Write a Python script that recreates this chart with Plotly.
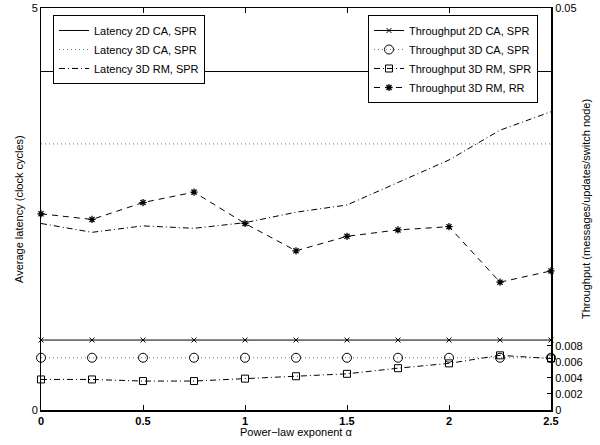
import plotly.graph_objects as go

alpha = [0, 0.25, 0.5, 0.75, 1.0, 1.25, 1.5, 1.75, 2.0, 2.25, 2.5]

lat_2d_ca = [4.21] * 11
lat_3d_ca = [3.31] * 11
lat_3d_rm = [2.32, 2.21, 2.29, 2.26, 2.33, 2.46, 2.55, 2.83, 3.11, 3.48, 3.71]

thr_2d_ca = [0.0087] * 11
thr_3d_ca = [0.0065] * 11
thr_3d_rm_spr = [0.0038, 0.0038, 0.0036, 0.0036, 0.0039, 0.0042, 0.0045, 0.0052, 0.0058, 0.0068, 0.0064]
thr_3d_rm_rr = [0.0244, 0.0237, 0.0258, 0.0271, 0.0232, 0.0198, 0.0216, 0.0224, 0.0228, 0.0159, 0.0173]

x_ticks = [0, 0.5, 1, 1.5, 2, 2.5]
x_tick_text = ["0", "0.5", "1", "1.5", "2", "2.5"]
left_ticks = [0, 5]
right_ticks = [0, 0.002, 0.004, 0.006, 0.008, 0.05]
right_tick_text = ["0", "0.002", "0.004", "0.006", "0.008", "0.05"]

FONT = "Liberation Sans, Arial, sans-serif"

fig = go.Figure()

# Latency traces (left axis)
fig.add_trace(go.Scatter(x=alpha, y=lat_2d_ca, mode="lines", name="Latency 2D CA, SPR",
                         line=dict(color="black", width=1), legend="legend", yaxis="y"))
fig.add_trace(go.Scatter(x=alpha, y=lat_3d_ca, mode="lines", name="Latency 3D CA, SPR",
                         line=dict(color="#777", width=1, dash="1px,3px"), legend="legend", yaxis="y"))
fig.add_trace(go.Scatter(x=alpha, y=lat_3d_rm, mode="lines", name="Latency 3D RM, SPR",
                         line=dict(color="black", width=1, dash="6px,3px,1px,3px"), legend="legend", yaxis="y"))

# Throughput traces (right axis)
fig.add_trace(go.Scatter(x=alpha, y=thr_2d_ca, mode="lines+markers", name="Throughput 2D CA, SPR",
                         line=dict(color="black", width=1),
                         marker=dict(symbol="x-thin-open", size=5, color="black", line=dict(width=1, color="black")),
                         legend="legend2", yaxis="y2", cliponaxis=False))
fig.add_trace(go.Scatter(x=alpha, y=thr_3d_ca, mode="lines+markers", name="Throughput 3D CA, SPR",
                         line=dict(color="#777", width=1, dash="1px,3px"),
                         marker=dict(symbol="circle-open", size=9, color="black", line=dict(width=1, color="black")),
                         legend="legend2", yaxis="y2", cliponaxis=False))
fig.add_trace(go.Scatter(x=alpha, y=thr_3d_rm_spr, mode="lines+markers", name="Throughput 3D RM, SPR",
                         line=dict(color="black", width=1, dash="6px,3px,1px,3px"),
                         marker=dict(symbol="square-open", size=7, color="black", line=dict(width=1, color="black")),
                         legend="legend2", yaxis="y2", cliponaxis=False))
fig.add_trace(go.Scatter(x=alpha, y=thr_3d_rm_rr, mode="lines+markers", name="Throughput 3D RM, RR",
                         line=dict(color="black", width=1, dash="6px,5px"),
                         marker=dict(symbol="asterisk-open", size=6, color="black", line=dict(width=1.3, color="black")),
                         legend="legend2", yaxis="y2", cliponaxis=False))

axis_font = dict(family=FONT, size=11, color="black")

fig.update_layout(
    width=600, height=445,
    margin=dict(l=41, r=49, t=8, b=35, autoexpand=False),
    paper_bgcolor="white", plot_bgcolor="white",
    font=dict(family=FONT, size=11, color="black"),
    xaxis=dict(range=[0, 2.5], tickvals=x_ticks, ticktext=x_tick_text, automargin=False,
               tickfont=dict(family=FONT, size=11, color="black", weight="bold"),
               ticks="inside", ticklen=5, tickcolor="black", tickwidth=1,
               showline=True, linecolor="black", linewidth=2, showgrid=False, zeroline=False),
    xaxis2=dict(range=[0, 2.5], overlaying="x", side="top", tickvals=x_ticks, showticklabels=False,
                ticks="inside", ticklen=5, tickcolor="black", showline=True, linecolor="black",
                linewidth=1, showgrid=False, zeroline=False, automargin=False),
    yaxis=dict(range=[0, 5], tickvals=left_ticks, ticktext=["0", "5"], tickfont=axis_font,
               ticks="inside", ticklen=4, tickcolor="black", automargin=False,
               showline=True, linecolor="black", linewidth=1, showgrid=False, zeroline=False),
    yaxis2=dict(range=[0, 0.05], overlaying="y", side="right", tickvals=right_ticks, ticktext=right_tick_text,
                tickfont=axis_font, ticks="inside", ticklen=4, tickcolor="black", automargin=False,
                showline=True, linecolor="black", linewidth=2, showgrid=False, zeroline=False),
    legend=dict(x=0.0235, y=0.9826, xanchor="left", yanchor="top", bgcolor="white",
                bordercolor="black", borderwidth=1, font=dict(family=FONT, size=11, color="black"),
                tracegroupgap=0, itemwidth=30),
    legend2=dict(x=0.9745, y=0.9826, xanchor="right", yanchor="top", bgcolor="white",
                 bordercolor="black", borderwidth=1, font=dict(family=FONT, size=11, color="black"),
                 tracegroupgap=0, itemwidth=30),
    annotations=[
        dict(text="Power\u2212law exponent \u03b1", xref="paper", yref="paper", x=0.5, y=0,
             yshift=-22, xanchor="center", yanchor="middle", showarrow=False, font=axis_font),
        dict(text="Average latency (clock cycles)", xref="paper", yref="paper", x=0, y=0.5,
             xshift=-22, xanchor="center", yanchor="middle", textangle=-90, showarrow=False, font=axis_font),
        dict(text="Throughput (messages/updates/switch node)", xref="paper", yref="paper", x=1, y=0.5,
             xshift=35, xanchor="center", yanchor="middle", textangle=-90, showarrow=False, font=axis_font),
    ],
)

# invisible trace to activate top axis
fig.add_trace(go.Scatter(x=[0], y=[0], xaxis="x2", yaxis="y", mode="markers",
                         marker=dict(opacity=0), showlegend=False, hoverinfo="skip"))

fig.write_html("out.html", config={"displayModeBar": False},
               post_script="document.body.style.margin='0';document.body.style.overflow='hidden';")
